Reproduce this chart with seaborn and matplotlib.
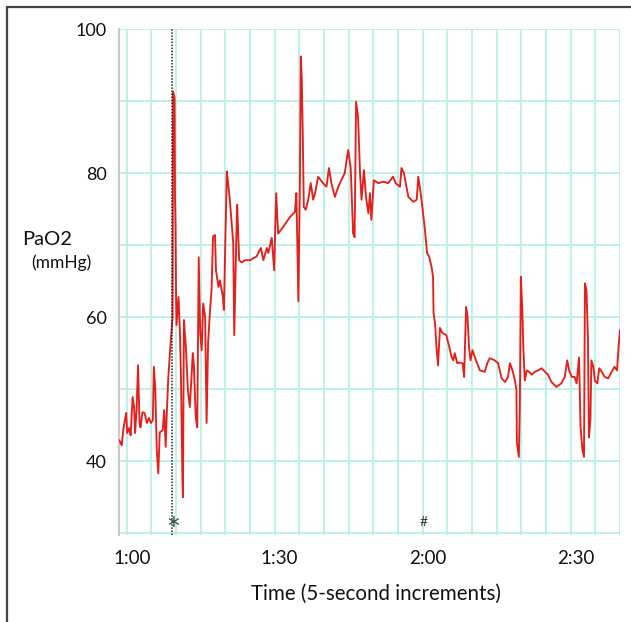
import numpy as np
import pandas as pd
import matplotlib
matplotlib.use('Agg')
import matplotlib.pyplot as plt
import matplotlib.transforms as mtransforms
from matplotlib.lines import Line2D
import seaborn as sns

# PaO2 trace (time in seconds, PaO2 in mmHg)
time_s = [58.5, 59.0, 59.3, 59.7, 59.9, 60.1, 60.5, 60.8, 61.2, 61.5,
          61.7, 62.0, 62.3, 62.6, 62.8, 63.2, 63.6, 64.1, 64.5, 64.9,
          65.3, 65.5, 65.8, 66.1, 66.4, 66.7, 67.3, 67.6, 67.9, 68.1,
          68.4, 68.8, 69.0, 69.3, 69.4, 69.7, 69.8, 69.9, 70.0, 70.1,
          70.5, 70.8, 71.0, 71.3, 71.4, 71.6, 72.0, 72.4, 72.8, 73.4,
          73.6, 74.0, 74.3, 74.6, 74.9, 75.2, 75.5, 75.9, 76.2, 76.5,
          76.9, 77.2, 77.5, 77.9, 78.1, 78.6, 78.9, 79.5, 79.7, 80.3,
          80.5, 80.9, 81.6, 81.8, 82.3, 82.4, 82.8, 83.3, 84.0, 85.0,
          85.7, 86.3, 87.2, 87.7, 88.4, 88.7, 89.4, 89.9, 90.3, 90.7,
          91.7, 93.1, 94.1, 94.4, 94.8, 95.1, 95.3, 95.5, 95.7, 95.9,
          96.3, 96.8, 97.3, 97.8, 98.2, 98.8, 99.8, 100.5, 101.0, 101.5,
          102.2, 102.9, 104.2, 104.9, 105.4, 105.9, 106.2, 106.5, 106.9, 107.3,
          107.6, 108.1, 108.5, 109.0, 109.3, 109.6, 110.1, 111.0, 112.0, 113.0,
          114.0, 114.5, 115.4, 115.7, 116.2, 116.7, 117.1, 118.1, 118.8, 119.1,
          119.6, 120.0, 120.4, 120.9, 121.3, 121.8, 122.1, 122.2, 122.5, 122.8,
          123.1, 123.5, 124.0, 124.8, 125.4, 125.9, 126.2, 126.5, 127.0, 127.5,
          128.1, 128.4, 128.8, 129.1, 129.4, 129.7, 130.1, 130.8, 131.6, 132.6,
          133.1, 133.6, 134.6, 135.3, 136.0, 136.7, 137.3, 137.7, 138.2, 138.7,
          139.0, 139.1, 139.5, 139.7, 139.9, 140.2, 140.4, 140.7, 141.1, 141.6,
          142.1, 142.7, 143.4, 144.1, 144.8, 145.4, 146.1, 147.1, 148.1, 148.8,
          149.3, 149.7, 150.2, 150.8, 151.2, 151.7, 152.0, 152.4, 152.7, 152.9,
          153.2, 153.5, 153.7, 154.0, 154.2, 154.6, 154.9, 155.4, 155.8, 156.3,
          156.9, 157.6, 158.3, 158.9, 159.4, 159.7, 160.0]
pao2 = [42.9, 42.2, 44.3, 46.0, 46.7, 43.9, 44.6, 43.6, 48.9, 47.5,
        43.9, 47.1, 53.3, 45.3, 44.7, 46.8, 46.7, 45.3, 46.0, 45.3,
        45.7, 53.1, 49.9, 41.5, 38.3, 44.0, 44.3, 47.1, 42.0, 46.1,
        51.2, 55.4, 57.2, 60.0, 91.3, 90.5, 76.5, 72.5, 63.5, 58.9,
        62.8, 57.8, 51.7, 37.4, 35.0, 59.6, 55.8, 49.9, 47.5, 55.0,
        53.6, 46.1, 44.7, 68.3, 57.8, 55.4, 61.9, 60.0, 45.3, 56.4,
        61.0, 63.7, 71.2, 71.4, 66.5, 64.2, 65.1, 62.8, 61.0, 80.2,
        79.0, 76.3, 70.3, 57.5, 73.5, 75.6, 67.9, 67.6, 67.9, 67.9,
        68.2, 68.4, 69.6, 67.9, 69.6, 68.9, 71.0, 66.5, 77.2, 71.6,
        72.5, 73.9, 74.6, 77.2, 62.2, 78.1, 96.2, 92.9, 85.0, 75.3,
        74.9, 76.3, 78.6, 76.3, 77.2, 79.5, 78.6, 78.1, 80.7, 78.6,
        76.7, 78.1, 80.0, 83.2, 80.8, 71.6, 71.1, 89.9, 87.8, 80.0,
        76.3, 80.4, 76.7, 74.4, 77.2, 73.5, 79.0, 78.6, 78.8, 78.6,
        79.5, 78.6, 78.1, 80.7, 80.0, 78.1, 76.7, 76.0, 76.3, 79.5,
        77.2, 74.9, 72.5, 68.9, 68.4, 67.0, 65.6, 60.6, 59.2, 55.8,
        53.3, 58.5, 57.8, 57.5, 55.8, 54.4, 54.0, 55.0, 53.6, 53.7,
        53.6, 51.7, 61.4, 60.0, 55.8, 54.0, 55.4, 54.0, 52.6, 52.4,
        53.6, 54.3, 54.0, 53.6, 51.5, 51.0, 51.7, 53.6, 52.6, 51.2,
        49.9, 42.5, 40.6, 48.0, 65.6, 61.0, 55.8, 51.2, 52.6, 52.4,
        52.0, 52.4, 52.6, 52.9, 52.4, 52.0, 51.0, 50.3, 50.8, 51.7,
        54.0, 52.6, 51.7, 51.7, 50.8, 54.4, 44.7, 41.5, 40.6, 64.7,
        63.7, 57.2, 43.3, 45.7, 54.0, 53.1, 51.2, 50.8, 52.9, 52.4,
        51.7, 51.5, 52.4, 53.1, 52.6, 55.8, 58.2]

x_ticks = [60, 90, 120, 150]
x_tick_labels = ['1:00', '1:30', '2:00', '2:30']
y_ticks = [40, 60, 80, 100]
marker_star_t = 69.2   # dotted line and *
marker_hash_t = 120.2  # #

df = pd.DataFrame({'t': time_s, 'pao2': pao2})

sns.set_theme(style='white')
plt.rcParams['font.family'] = ['Lato', 'DejaVu Sans']

fig = plt.figure(figsize=(6.31, 6.22), dpi=100)
ax = fig.add_axes([119 / 631, 1 - 535 / 622, 501 / 631, 506 / 622])

grid_col = '#b8f0e5'
for gx in np.arange(60, 161, 5):
    ax.axvline(gx, color=grid_col, lw=1.3, zorder=0)
for gy in np.arange(30, 101, 10):
    ax.axhline(gy, color=grid_col, lw=1.3, zorder=0)

sns.lineplot(data=df, x='t', y='pao2', sort=False, color='#e3201c',
             lw=1.35, ax=ax, zorder=3)

ax.axvline(marker_star_t, color='#222222', lw=1.1, ls=(0, (1, 1)), zorder=4)
ax.text(marker_star_t + 0.15, 30.8, '*', ha='center', va='center',
        fontsize=17, family='DejaVu Sans', color='#2e4a4a', zorder=5)
ax.text(marker_hash_t, 31.6, '#', ha='center', va='center',
        fontsize=10, color='#333333', zorder=5)

ax.set_xlim(58.44, 160)
ax.set_ylim(29.75, 100)
ax.set_xticks(x_ticks)
ax.set_xticklabels(x_tick_labels)
ax.set_yticks(y_ticks)
ax.tick_params(axis='y', length=0, labelsize=13, colors='#111111', pad=9)
ax.tick_params(axis='x', length=0, labelsize=13.5, colors='#111111', pad=11)
shift = mtransforms.ScaledTranslation(5 / 100, 0, fig.dpi_scale_trans)
for lab in ax.get_xticklabels():
    lab.set_transform(lab.get_transform() + shift)
ax.set_xlabel('')
ax.set_ylabel('')

for s in ['top', 'right', 'bottom']:
    ax.spines[s].set_visible(False)
ax.spines['left'].set_color('#c8c8c8')
ax.spines['left'].set_linewidth(1.5)

fig.text(376 / 631, 1 - 594 / 622, 'Time (5-second increments)', ha='center',
         va='center', fontsize=14.8, color='#111111')
fig.text(47 / 631, 1 - 240 / 622, 'PaO2', ha='center', va='center',
         fontsize=14.5, color='#111111')
fig.text(61 / 631, 1 - 263 / 622, '(mmHg)', ha='center', va='center',
         fontsize=12.5, color='#111111')

# frame around the figure (only left and top edges show)
fig.add_artist(Line2D([7 / 631, 7 / 631], [0, 1 - 7 / 622], transform=fig.transFigure,
                      color='#444444', lw=1.6))
fig.add_artist(Line2D([7 / 631, 1], [1 - 7 / 622, 1 - 7 / 622], transform=fig.transFigure,
                      color='#444444', lw=1.6))

fig.savefig('out.png', dpi=100)
